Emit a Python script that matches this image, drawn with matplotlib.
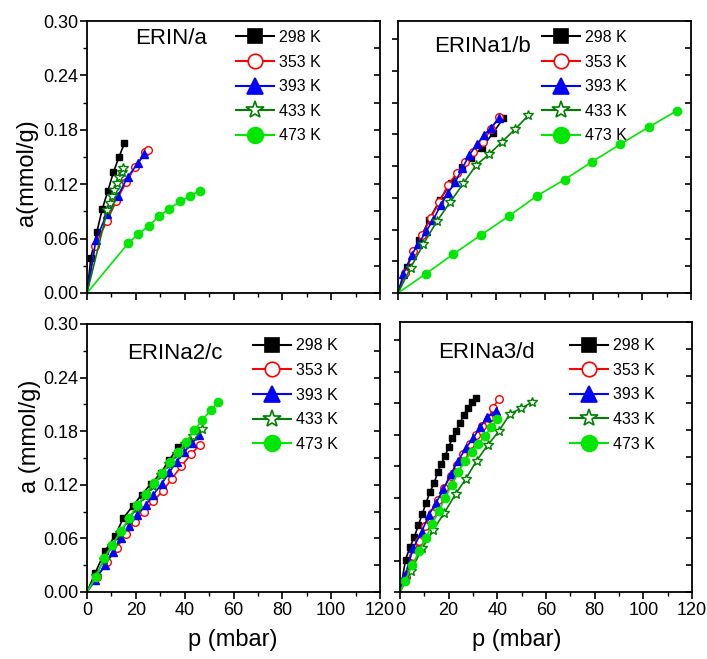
import matplotlib
matplotlib.use("Agg")
import matplotlib.pyplot as plt
from matplotlib.ticker import MultipleLocator, NullFormatter
from matplotlib.lines import Line2D

plt.rcParams['font.family'] = ['Liberation Sans Narrow', 'Liberation Sans', 'DejaVu Sans']

temps = ["298 K", "353 K", "393 K", "433 K", "473 K"]

# ---- Panel a: ERIN/a ----
a_298_p = [1.6, 4.0, 6.3, 8.6, 10.8, 13.1, 15.3]
a_298_a = [0.039, 0.067, 0.093, 0.113, 0.133, 0.150, 0.165]
a_353_p = [3.3, 8.1, 11.9, 16.0, 19.7, 23.8, 25.1]
a_353_a = [0.052, 0.079, 0.101, 0.122, 0.139, 0.155, 0.158]
a_393_p = [3.7, 8.1, 12.6, 16.7, 20.8, 23.5]
a_393_a = [0.059, 0.087, 0.107, 0.128, 0.143, 0.153]
a_433_p = [8.3, 9.4, 10.4, 11.2, 12.2, 13.1, 14.2, 14.9]
a_433_a = [0.091, 0.099, 0.107, 0.114, 0.121, 0.128, 0.134, 0.138]
a_473_p = [16.9, 21.0, 25.4, 29.6, 33.7, 38.1, 42.3, 46.3]
a_473_a = [0.055, 0.065, 0.074, 0.085, 0.093, 0.101, 0.107, 0.113]

# ---- Panel b: ERINa1/b ----
b_298_p = [3.6, 8.7, 12.8, 17.2, 21.6, 26.1, 29.9, 34.3, 38.8, 43.2]
b_298_a = [0.029, 0.058, 0.081, 0.103, 0.121, 0.139, 0.149, 0.160, 0.176, 0.193]
b_353_p = [2.9, 6.3, 10.0, 13.4, 16.9, 20.4, 24.0, 27.5, 30.9, 34.7, 38.1, 41.4]
b_353_a = [0.022, 0.046, 0.064, 0.083, 0.100, 0.119, 0.132, 0.144, 0.156, 0.166, 0.181, 0.194]
b_393_p = [2.2, 5.6, 8.3, 11.5, 14.5, 17.5, 20.4, 23.4, 26.4, 29.2, 32.3, 35.2, 38.0, 41.5]
b_393_a = [0.021, 0.042, 0.054, 0.068, 0.081, 0.097, 0.110, 0.122, 0.138, 0.152, 0.164, 0.174, 0.182, 0.193]
b_433_p = [5.2, 10.4, 15.9, 21.3, 26.8, 32.0, 37.3, 42.7, 48.1, 53.4]
b_433_a = [0.028, 0.054, 0.079, 0.100, 0.121, 0.141, 0.153, 0.167, 0.181, 0.196]
b_473_p = [11.3, 22.7, 34.0, 45.5, 56.8, 68.2, 79.6, 91.0, 102.7, 114.2]
b_473_a = [0.021, 0.043, 0.064, 0.085, 0.107, 0.125, 0.145, 0.164, 0.183, 0.201]

# ---- Panel c: ERINa2/c ----
c_298_p = [3.3, 7.4, 11.5, 14.9, 18.7, 22.4, 26.2, 30.2, 33.7, 37.4]
c_298_a = [0.021, 0.046, 0.063, 0.083, 0.096, 0.109, 0.121, 0.133, 0.148, 0.162]
c_353_p = [4.0, 8.3, 12.1, 15.9, 19.7, 23.4, 27.2, 31.0, 34.8, 38.7, 42.5, 46.3]
c_353_a = [0.017, 0.034, 0.049, 0.065, 0.078, 0.090, 0.102, 0.113, 0.127, 0.141, 0.154, 0.165]
c_393_p = [3.3, 7.4, 10.8, 13.8, 17.3, 20.6, 24.0, 27.2, 30.6, 33.7, 36.8, 39.9, 43.2, 46.0]
c_393_a = [0.013, 0.030, 0.045, 0.060, 0.074, 0.086, 0.097, 0.109, 0.121, 0.134, 0.146, 0.157, 0.167, 0.176]
c_433_p = [3.5, 7.0, 10.3, 13.6, 17.0, 20.3, 23.6, 27.0, 30.3, 33.6, 37.0, 40.3, 43.6, 47.0]
c_433_a = [0.018, 0.036, 0.052, 0.066, 0.081, 0.094, 0.107, 0.119, 0.131, 0.143, 0.155, 0.166, 0.175, 0.183]
c_473_p = [3.7, 7.0, 10.4, 13.8, 17.2, 20.6, 24.0, 27.5, 30.9, 34.0, 37.4, 40.6, 44.0, 47.3, 50.8, 53.8]
c_473_a = [0.017, 0.038, 0.053, 0.068, 0.083, 0.097, 0.110, 0.122, 0.133, 0.146, 0.157, 0.168, 0.181, 0.193, 0.204, 0.213]

# ---- Panel d: ERINa3/d ----
d_298_p = [2.3, 4.1, 5.9, 7.5, 9.2, 10.7, 12.3, 14.0, 15.5, 16.9, 18.5, 20.0, 21.5, 23.0, 24.7, 26.3, 27.8, 29.5, 31.2]
d_298_a = [0.036, 0.050, 0.061, 0.074, 0.087, 0.099, 0.111, 0.121, 0.133, 0.142, 0.151, 0.161, 0.171, 0.179, 0.188, 0.197, 0.205, 0.211, 0.216]
d_353_p = [2.5, 5.2, 7.8, 10.4, 13.0, 15.6, 18.2, 20.8, 23.4, 26.0, 28.6, 31.2, 33.8, 36.4, 38.1, 40.7]
d_353_a = [0.017, 0.040, 0.057, 0.073, 0.088, 0.102, 0.116, 0.129, 0.141, 0.153, 0.164, 0.174, 0.184, 0.193, 0.204, 0.215]
d_393_p = [2.1, 5.5, 8.9, 11.9, 14.8, 17.8, 20.8, 24.0, 27.0, 30.1, 32.9, 35.9, 39.3]
d_393_a = [0.019, 0.049, 0.067, 0.086, 0.099, 0.114, 0.131, 0.146, 0.160, 0.171, 0.183, 0.194, 0.201]
d_433_p = [4.4, 9.2, 13.7, 18.2, 22.9, 27.1, 31.5, 36.0, 40.7, 45.2, 49.7, 54.4]
d_433_a = [0.023, 0.049, 0.069, 0.088, 0.109, 0.126, 0.146, 0.163, 0.179, 0.198, 0.204, 0.211]
d_473_p = [2.0, 5.1, 8.0, 10.6, 13.3, 16.0, 18.5, 21.2, 24.0, 26.7, 29.5, 32.2, 34.9, 37.4, 40.0]
d_473_a = [0.012, 0.030, 0.046, 0.060, 0.076, 0.090, 0.104, 0.119, 0.133, 0.146, 0.156, 0.165, 0.173, 0.183, 0.192]

panel_titles = ["ERIN/a", "ERINa1/b", "ERINa2/c", "ERINa3/d"]
panels = [
    [(a_298_p, a_298_a), (a_353_p, a_353_a), (a_393_p, a_393_a), (a_433_p, a_433_a), (a_473_p, a_473_a)],
    [(b_298_p, b_298_a), (b_353_p, b_353_a), (b_393_p, b_393_a), (b_433_p, b_433_a), (b_473_p, b_473_a)],
    [(c_298_p, c_298_a), (c_353_p, c_353_a), (c_393_p, c_393_a), (c_433_p, c_433_a), (c_473_p, c_473_a)],
    [(d_298_p, d_298_a), (d_353_p, d_353_a), (d_393_p, d_393_a), (d_433_p, d_433_a), (d_473_p, d_473_a)],
]

styles = [
    dict(color='black', marker='s', mfc='black', mec='black'),
    dict(color='#ff0000', marker='o', mfc='white', mec='#ff0000'),
    dict(color='#0000ff', marker='^', mfc='#0000ff', mec='#0000ff'),
    dict(color='#007f00', marker='*', mfc='white', mec='#007f00'),
    dict(color='#00e600', marker='o', mfc='#00e600', mec='#00e600'),
]
msizes = [5, 5.5, 6, 7, 6]

W, H = 707, 659
fig = plt.figure(figsize=(W / 100, H / 100), dpi=100)

boxes = [
    (87, 21, 380, 293),
    (398, 21, 691, 293),
    (87, 324, 380, 592),
    (400, 322, 692, 592),
]
title_pos = [(0.165, 0.935), (0.125, 0.905), (0.137, 0.89), (0.13, 0.888)]
legend_anchor = [(0.509, 0.967), (0.491, 0.967), (0.567, 0.946), (0.582, 0.940)]

for i, (x0, y0, x1, y1) in enumerate(boxes):
    ax = fig.add_axes([x0 / W, 1 - y1 / H, (x1 - x0) / W, (y1 - y0) / H])
    handles = []
    for (p, a), st, ms, lab in zip(panels[i], styles, msizes, temps):
        ax.plot([0] + list(p), [0] + list(a), color=st['color'], lw=1.2,
                marker=st['marker'], mfc=st['mfc'], mec=st['mec'], ms=ms,
                mew=1.0, markevery=slice(1, None))
        handles.append(Line2D([], [], color=st['color'], lw=1.5, marker=st['marker'],
                              mfc=st['mfc'], mec=st['mec'], ms=ms * 1.9, mew=1.2, label=lab))
    ax.set_xlim(0, 120)
    ax.set_ylim(0, 0.30)
    for s in ax.spines.values():
        s.set_linewidth(1.3)
    ax.xaxis.set_major_locator(MultipleLocator(20))
    ax.xaxis.set_minor_locator(MultipleLocator(10))
    ax.tick_params(axis='x', which='major', direction='out', length=5, width=1.2,
                   labelsize=13, pad=2, top=False)
    ax.tick_params(axis='x', which='minor', direction='out', length=3, width=1.0, top=False)
    if i < 2:
        ax.set_xticklabels([])
    if i % 2 == 0:
        ax.yaxis.set_major_locator(MultipleLocator(0.06))
        ax.yaxis.set_minor_locator(MultipleLocator(0.03))
        ax.set_yticklabels(['%.2f' % v for v in ax.get_yticks()])
        ax.tick_params(axis='y', which='major', direction='out', length=5, width=1.2,
                       labelsize=13, pad=1, right=False)
        ax.tick_params(axis='y', which='minor', direction='out', length=3, width=1.0, right=False)
    else:
        ax.yaxis.set_major_locator(MultipleLocator(0.035))
        ax.yaxis.set_minor_locator(MultipleLocator(0.035))
        ax.yaxis.set_major_formatter(NullFormatter())
        ax.tick_params(axis='y', which='major', direction='out', length=4, width=1.2, right=False)
    tw = ax.twinx()
    tw.set_ylim(0, 0.30)
    tw.yaxis.set_major_locator(MultipleLocator(0.03))
    tw.yaxis.set_major_formatter(NullFormatter())
    tw.tick_params(axis='y', direction='in', length=4, width=1.2)
    for s in tw.spines.values():
        s.set_visible(False)

    ax.text(title_pos[i][0], title_pos[i][1], panel_titles[i], transform=ax.transAxes,
            fontsize=16, ha='left', va='center')
    ax.legend(handles=handles, loc='upper left', bbox_to_anchor=legend_anchor[i],
              frameon=False, fontsize=11.5, handlelength=2.4, handletextpad=0.3,
              labelspacing=0.6, borderaxespad=0.0, borderpad=0.0)

fig.text(27 / W, 1 - 173 / H, "a(mmol/g)", rotation=90, ha='center', va='center', fontsize=17)
fig.text(30 / W, 1 - 436 / H, "a (mmol/g)", rotation=90, ha='center', va='center', fontsize=17)
fig.text(233 / W, 1 - 640 / H, "p (mbar)", ha='center', va='center', fontsize=17)
fig.text(517 / W, 1 - 640 / H, "p (mbar)", ha='center', va='center', fontsize=17)

fig.savefig("out.png", dpi=100)
